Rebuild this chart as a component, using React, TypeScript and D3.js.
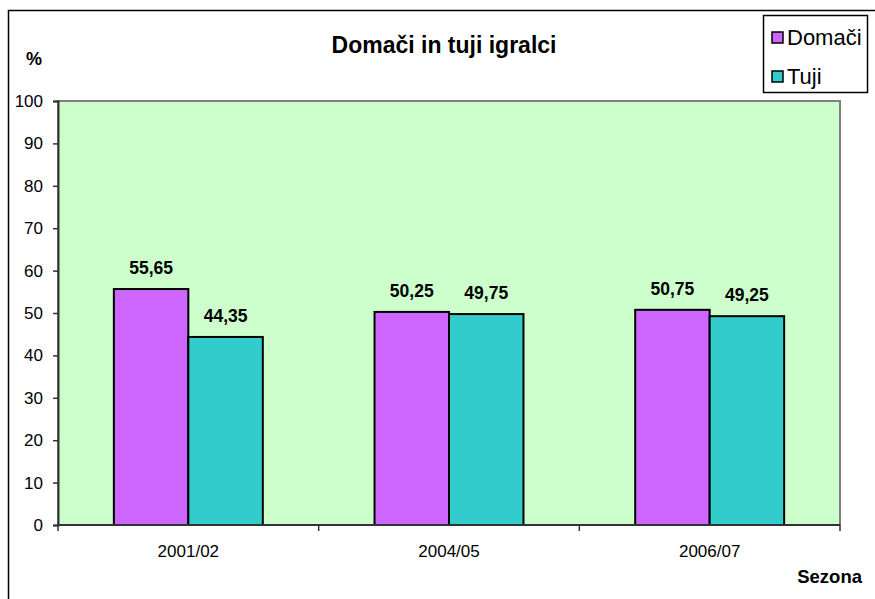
import React, { useEffect, useRef } from 'react';
import * as d3 from 'd3';

const seasons = ['2001/02', '2004/05', '2006/07'];
const seriesNames = ['Domači', 'Tuji'];
const domaci = [55.65, 50.25, 50.75];
const tuji = [44.35, 49.75, 49.25];
const yTicks = [0, 10, 20, 30, 40, 50, 60, 70, 80, 90, 100];
const colors = ['#CC66FF', '#33CCCC'];

const W = 875;
const H = 599;
const font = '"Liberation Sans", Arial, sans-serif';

export default function App() {
  const svgRef = useRef<SVGSVGElement | null>(null);

  useEffect(() => {
    if (!svgRef.current) return;
    const svg = d3.select(svgRef.current);
    svg.selectAll('*').remove();

    const plot = { left: 58, right: 840, top: 101, bottom: 525 };

    // outer chart border
    svg.append('rect')
      .attr('x', 8.5).attr('y', 10.5)
      .attr('width', W + 10).attr('height', H + 10)
      .attr('fill', '#fff').attr('stroke', '#000').attr('stroke-width', 1.5);

    const x0 = d3.scaleBand<string>()
      .domain(seasons)
      .range([plot.left, plot.right])
      .paddingInner(0)
      .paddingOuter(0);

    // Excel gap width 150%: two bars + 1.5 bar gap per category
    const barW = x0.bandwidth() / 3.5;

    const y = d3.scaleLinear().domain([0, 100]).range([plot.bottom, plot.top]);

    // plot area
    svg.append('rect')
      .attr('x', plot.left).attr('y', plot.top)
      .attr('width', plot.right - plot.left).attr('height', plot.bottom - plot.top)
      .attr('fill', '#CCFFCC').attr('stroke', '#808080').attr('stroke-width', 2);

    const data = seasons.map((s, i) => ({ season: s, values: [domaci[i], tuji[i]] }));

    const g = svg.append('g');
    data.forEach(d => {
      const cx = (x0(d.season) as number) + x0.bandwidth() / 2;
      d.values.forEach((v, k) => {
        const bx = cx - barW + k * barW;
        g.append('rect')
          .attr('x', bx).attr('y', y(v))
          .attr('width', barW).attr('height', y(0) - y(v))
          .attr('fill', colors[k]).attr('stroke', '#000').attr('stroke-width', 2);
        g.append('text')
          .attr('x', bx + barW / 2).attr('y', y(v) - 15)
          .attr('text-anchor', 'middle')
          .attr('font-family', font).attr('font-weight', 'bold').attr('font-size', 17.5)
          .text(v.toFixed(2).replace('.', ','));
      });
    });

    // y axis
    const yAxis = svg.append('g').attr('transform', `translate(${plot.left},0)`)
      .call(d3.axisLeft(y).tickValues(yTicks).tickSize(5).tickPadding(10));
    yAxis.select('.domain').attr('stroke', '#333').attr('stroke-width', 2);
    yAxis.selectAll('line').attr('stroke', '#333').attr('stroke-width', 1.5);
    yAxis.selectAll('text')
      .attr('font-family', font).attr('font-size', 17).attr('fill', '#000');

    // x axis
    const xa = svg.append('g');
    xa.append('line')
      .attr('x1', plot.left).attr('x2', plot.right)
      .attr('y1', plot.bottom).attr('y2', plot.bottom)
      .attr('stroke', '#333').attr('stroke-width', 2);
    [...seasons.map(s => x0(s) as number), plot.right].forEach(t => {
      xa.append('line')
        .attr('x1', t).attr('x2', t)
        .attr('y1', plot.bottom).attr('y2', plot.bottom + 6)
        .attr('stroke', '#333').attr('stroke-width', 1.5);
    });
    seasons.forEach(s => {
      xa.append('text')
        .attr('x', (x0(s) as number) + x0.bandwidth() / 2).attr('y', 557)
        .attr('text-anchor', 'middle')
        .attr('font-family', font).attr('font-size', 17)
        .text(s);
    });

    // title and axis titles
    svg.append('text')
      .attr('x', 444).attr('y', 53).attr('text-anchor', 'middle')
      .attr('font-family', font).attr('font-weight', 'bold').attr('font-size', 23)
      .text('Domači in tuji igralci');
    svg.append('text')
      .attr('x', 34).attr('y', 65).attr('text-anchor', 'middle')
      .attr('font-family', font).attr('font-weight', 'bold').attr('font-size', 18)
      .text('%');
    svg.append('text')
      .attr('x', 862).attr('y', 583).attr('text-anchor', 'end')
      .attr('font-family', font).attr('font-weight', 'bold').attr('font-size', 18.5)
      .text('Sezona');

    // legend
    const lg = svg.append('g');
    lg.append('rect')
      .attr('x', 763.5).attr('y', 15.5).attr('width', 104).attr('height', 77)
      .attr('fill', '#fff').attr('stroke', '#000').attr('stroke-width', 1.5);
    seriesNames.forEach((n, k) => {
      const cy = 37.5 + k * 39;
      lg.append('rect')
        .attr('x', 772).attr('y', cy - 5.5).attr('width', 11).attr('height', 11)
        .attr('fill', colors[k]).attr('stroke', '#000').attr('stroke-width', 1.5);
      lg.append('text')
        .attr('x', 787).attr('y', cy + 7)
        .attr('font-family', font).attr('font-size', 22)
        .text(n);
    });
  }, []);

  return (
    <svg ref={svgRef} width={W} height={H}
      style={{ position: 'absolute', left: 0, top: 0, background: '#fff' }} />
  );
}
